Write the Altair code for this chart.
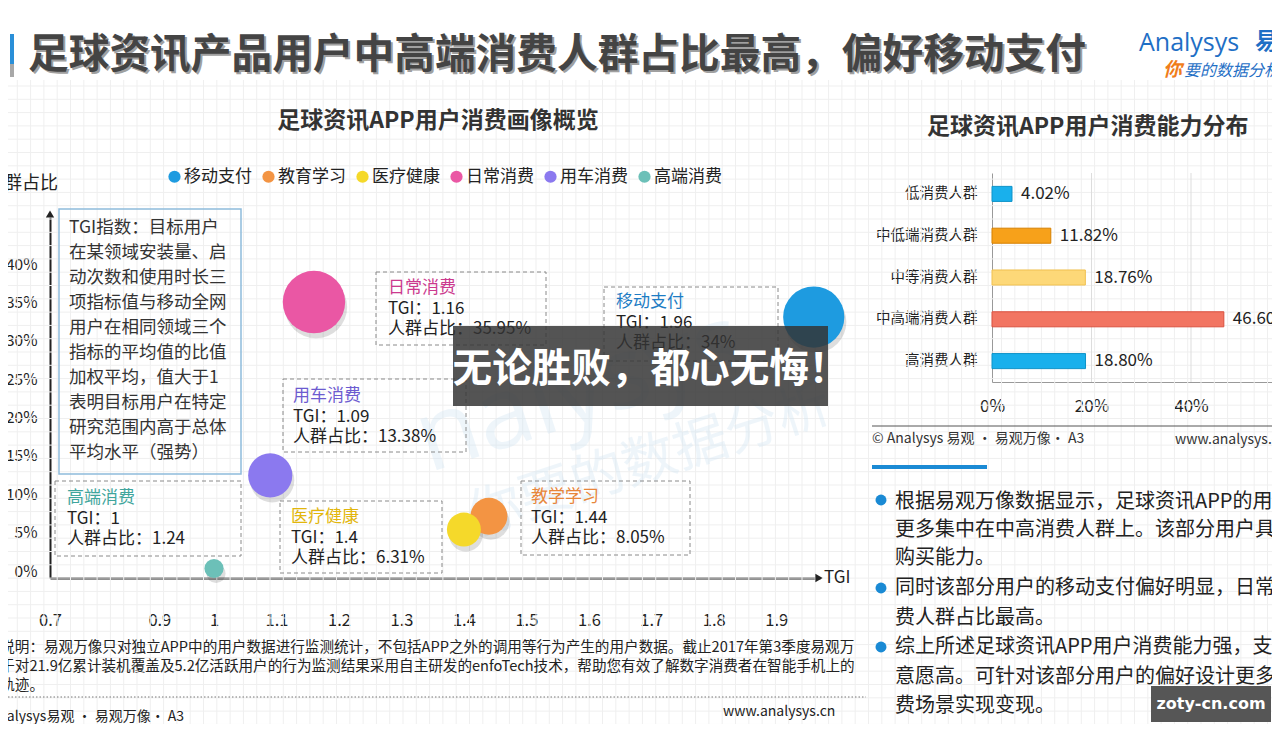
import altair as alt
import pandas as pd
import numpy as np

FONT = "Noto Sans CJK SC"
W, H = 1264, 716

# ---------------- data ----------------
bubble_names = ["移动支付", "教育学习", "医疗健康", "日常消费", "用车消费", "高端消费"]
bubble_tgi = [1.96, 1.44, 1.4, 1.16, 1.09, 1.0]
bubble_share = [34.0, 8.05, 6.31, 35.95, 13.38, 1.24]
bubble_colors = ["#1e9be0", "#f39443", "#f5d92a", "#ea57a4", "#8b79ef", "#6cc0b8"]

ann_titles = ["移动支付", "教学学习", "医疗健康", "日常消费", "用车消费", "高端消费"]
ann_title_colors = ["#1d7cc4", "#e8863a", "#e2b60c", "#cc3a8e", "#6d5bd0", "#3fa59c"]
ann_tgi_text = ["1.96", "1.44", "1.4", "1.16", "1.09", "1"]
ann_share_text = ["34%", "8.05%", "6.31%", "35.95%", "13.38%", "1.24"]

x_ticks = [0.7, 0.9, 1.0, 1.1, 1.2, 1.3, 1.4, 1.5, 1.6, 1.7, 1.8, 1.9]
y_ticks = [0, 5, 10, 15, 20, 25, 30, 35, 40]

bar_cats = ["低消费人群", "中低端消费人群", "中等消费人群", "中高端消费人群", "高消费人群"]
bar_vals = [4.02, 11.82, 18.76, 46.60, 18.80]
bar_labels = ["4.02%", "11.82%", "18.76%", "46.60%", "18.80%"]
bar_colors = ["#19b0ec", "#f7a11a", "#fdd878", "#f27562", "#19b0ec"]
bar_strokes = ["#0f93c8", "#d68000", "#f0c050", "#d9503e", "#0f93c8"]
bar_ticks = [0, 20, 40, 60]

title_text = "足球资讯产品用户中高端消费人群占比最高，偏好移动支付"
sub_left = "足球资讯APP用户消费画像概览"
sub_right = "足球资讯APP用户消费能力分布"
tgi_lines = ["TGI指数：目标用户", "在某领域安装量、启", "动次数和使用时长三", "项指标值与移动全网",
             "用户在相同领域三个", "指标的平均值的比值", "加权平均，值大于1", "表明目标用户在特定",
             "研究范围内高于总体", "平均水平（强势）"]
bullet_lines = ["根据易观万像数据显示，足球资讯APP的用户", "更多集中在中高消费人群上。该部分用户具有较强的",
                "购买能力。", "同时该部分用户的移动支付偏好明显，日常消", "费人群占比最高。",
                "综上所述足球资讯APP用户消费能力强，支付", "意愿高。可针对该部分用户的偏好设计更多消",
                "费场景实现变现。"]
note_lines = ["数据说明：易观万像只对独立APP中的用户数据进行监测统计，不包括APP之外的调用等行为产生的用户数据。截止2017年第3季度易观万",
              "像基于对21.9亿累计装机覆盖及5.2亿活跃用户的行为监测结果采用自主研发的enfoTech技术，帮助您有效了解数字消费者在智能手机上的",
              "行为轨迹。"]

# ---------------- layout (page pixel coordinates) ----------------
PX = alt.Scale(domain=[8, 8 + W], range=[0, W], nice=False, zero=False)
PY = alt.Scale(domain=[8, 8 + H], range=[0, H], nice=False, zero=False)

# annotation boxes: x1, y1, x2, y2, text x, first line y
ann_layout = [
    (604, 287, 778, 361, 616, 302),
    (521, 481, 690, 555, 531, 497),
    (280, 501, 442, 573, 291, 517),
    (376, 272, 546, 345, 388, 288),
    (283, 379, 466, 452, 293, 396),
    (55, 481, 241, 556, 67, 498),
]
LINE = 20.6


def X(f="x"):
    return alt.X(f"{f}:Q", scale=PX, axis=None)


def Y(f="y"):
    return alt.Y(f"{f}:Q", scale=PY, axis=None)


def text_layer(rows, **style):
    df = pd.DataFrame(rows, columns=["x", "y", "t"])
    st = dict(font=FONT, align="left", baseline="middle", color="#222")
    st.update(style)
    return alt.Chart(df).mark_text(**st).encode(x=X(), y=Y(), text="t:N")


def rect_layer(rows, **style):
    df = pd.DataFrame(rows, columns=["x", "y", "x2", "y2"])
    return alt.Chart(df).mark_rect(**style).encode(x=X(), y=Y(), x2="x2:Q", y2="y2:Q")


def rule_layer(rows, **style):
    df = pd.DataFrame(rows, columns=["x", "y", "x2", "y2"])
    return alt.Chart(df).mark_rule(**style).encode(x=X(), y=Y(), x2="x2:Q", y2="y2:Q")


def point_layer(rows, **style):
    df = pd.DataFrame(rows, columns=["x", "y"])
    return alt.Chart(df).mark_point(**style).encode(x=X(), y=Y())


layers = []

# background graph-paper grid
gx = np.arange(4, 1280, 13.3)
gy = np.arange(86, 732, 13.3)
layers.append(rule_layer([(v, 80, v, 724) for v in gx], color="#efefef", strokeWidth=1))
layers.append(rule_layer([(8, v, 1272, v) for v in gy], color="#efefef", strokeWidth=1))

# faint watermark logo
layers.append(text_layer([(580, 392, "nalysys")], fontSize=100, color="#cfe4f3", opacity=0.35,
                         angle=342, align="center", font="Open Sans"))
layers.append(text_layer([(650, 462, "你要的数据分析")], fontSize=54, color="#cfe4f3", opacity=0.35,
                         angle=342, align="center"))

# title bar + title
layers.append(rect_layer([(10, 34, 14, 64)], color="#2a8fd8"))
layers.append(rect_layer([(10, 64, 14, 77)], color="#a8a8a8"))
layers.append(text_layer([(30, 58, title_text)], fontSize=40.7, fontWeight="bold", color="#a0a0a0"))
layers.append(text_layer([(28, 56, title_text)], fontSize=40.7, fontWeight="bold", color="#444444"))

# logo
layers.append(text_layer([(1139, 43, "Analysys")], fontSize=25, color="#1f6fc5", font="Open Sans"))
layers.append(text_layer([(1255, 42, "易观")], fontSize=23, fontWeight="bold", color="#1f6fc5"))
layers.append(text_layer([(1163, 70, "你")], fontSize=19, fontWeight="bold", fontStyle="italic", color="#f07d1a"))
layers.append(text_layer([(1184, 71, "要的数据分析")], fontSize=16, fontStyle="italic", color="#1f6fc5"))

# subtitles
layers.append(text_layer([(438, 121, sub_left)], fontSize=23, fontWeight="bold", color="#333", align="center"))
layers.append(text_layer([(927, 127, sub_right)], fontSize=23, fontWeight="bold", color="#333"))

# TGI explanation box
layers.append(rect_layer([(59, 209, 241, 474)], fillOpacity=0, stroke="#8fbcdc", strokeWidth=1.5))
layers.append(text_layer([(69, 228 + 25 * i, s) for i, s in enumerate(tgi_lines)], fontSize=17.5, color="#333"))

# annotation boxes
layers.append(rect_layer([a[:4] for a in ann_layout], fillOpacity=0, stroke="#8a8a8a",
                         strokeWidth=1, strokeDash=[4, 3]))

# ---- bubble chart ----
bub = pd.DataFrame({"name": bubble_names, "tgi": bubble_tgi, "share": bubble_share})
BX = alt.Scale(domain=[0.7, 1.0, 1.97], range=[42, 206, 812], nice=False, zero=False)
BY = alt.Scale(domain=[0, 47], range=[570, 570 - 47 * 7.675], nice=False, zero=False)
BS = alt.Scale(type="pow", exponent=0.7, domain=[0, 36], range=[0, 3900])

shadow = alt.Chart(bub).mark_circle(color="#000000", opacity=0.13, xOffset=2, yOffset=5).encode(
    x=alt.X("tgi:Q", scale=BX, axis=None),
    y=alt.Y("share:Q", scale=BY, axis=None),
    size=alt.Size("share:Q", scale=BS, legend=None),
)
layers.append(shadow)

bubbles = alt.Chart(bub).mark_circle(opacity=1).encode(
    x=alt.X("tgi:Q", scale=BX, title=None,
            axis=alt.Axis(orient="bottom", offset=-146, values=x_ticks, format=".1~f", tickSize=0,
                          labelPadding=34, domainColor="#222", domainWidth=2, grid=False, labelFlush=False,
                          labelFontSize=16.5, labelFont=FONT, labelColor="#222")),
    y=alt.Y("share:Q", scale=BY, title=None,
            axis=alt.Axis(orient="left", offset=-42, values=y_ticks, labelExpr="datum.value + '%'",
                          tickSize=0, labelPadding=13, domainColor="#222", domainWidth=2, grid=False,
                          labelFlush=False, labelFontSize=15.5, labelFont=FONT, labelColor="#222",
                          labelOffset=-7)),
    size=alt.Size("share:Q", scale=BS, legend=None),
    color=alt.Color("name:N", scale=alt.Scale(domain=bubble_names, range=bubble_colors),
                    legend=alt.Legend(orient="none", legendX=158, legendY=160, direction="horizontal",
                                      title=None, symbolType="circle", symbolSize=150,
                                      symbolStrokeWidth=0, labelFontSize=17, labelFont=FONT,
                                      labelColor="#222", labelOffset=1, columnPadding=8, padding=0)),
)
layers.append(bubbles)

# axis arrows and titles
layers.append(point_layer([(50, 214)], shape="triangle-up", filled=True, size=70, color="#222", opacity=1))
layers.append(point_layer([(819, 578)], shape="triangle-right", filled=True, size=70, color="#222", opacity=1))
layers.append(text_layer([(58, 184, "人群占比")], fontSize=18, align="right", color="#222"))
layers.append(text_layer([(824, 578, "TGI")], fontSize=17, color="#222"))

# annotation texts
ann_df = pd.DataFrame({
    "x": [a[4] for a in ann_layout],
    "y": [a[5] for a in ann_layout],
    "t": ann_titles,
})
layers.append(alt.Chart(ann_df).mark_text(font=FONT, fontSize=17, align="left", baseline="middle").encode(
    x=X(), y=Y(), text="t:N",
    color=alt.Color("t:N", scale=alt.Scale(domain=ann_titles, range=ann_title_colors), legend=None)))
rows = []
for a, tg, sh in zip(ann_layout, ann_tgi_text, ann_share_text):
    rows.append((a[4], a[5] + LINE, "TGI：" + tg))
    rows.append((a[4], a[5] + 2 * LINE, "人群占比：" + sh))
layers.append(text_layer(rows, fontSize=17, color="#222"))

# ---- bar chart ----
bar = pd.DataFrame({"cat": bar_cats, "val": bar_vals, "lab": bar_labels})
BRX = alt.Scale(domain=[0, 60], range=[984, 984 + 298.5], nice=False, zero=False)
BRY = alt.Scale(domain=bar_cats, range=[165, 374], paddingInner=0.64, paddingOuter=0.32)

tick_df = pd.DataFrame({"v": bar_ticks[1:]})
layers.append(alt.Chart(tick_df).mark_rule(color="#dddddd", strokeWidth=1).encode(
    x=alt.X("v:Q", scale=BRX, axis=None), y=alt.value(165), y2=alt.value(374)))

layers.append(alt.Chart(bar).mark_bar(strokeWidth=1).encode(
    x=alt.X("val:Q", scale=BRX, title=None,
            axis=alt.Axis(orient="bottom", offset=-342, values=bar_ticks, labelExpr="datum.value + '%'",
                          tickSize=0, labelPadding=16, domainColor="#999", grid=False, labelFlush=False,
                          labelFontSize=17, labelFont=FONT, labelColor="#222")),
    y=alt.Y("cat:N", scale=BRY, title=None, sort=bar_cats,
            axis=alt.Axis(orient="left", offset=-984, tickSize=0, labelPadding=15, domainColor="#999",
                          grid=False, labelFontSize=14.5, labelFont=FONT, labelColor="#222")),
    color=alt.Color("cat:N", scale=alt.Scale(domain=bar_cats, range=bar_colors), legend=None),
    stroke=alt.Stroke("cat:N", scale=alt.Scale(domain=bar_cats, range=bar_strokes), legend=None),
))
layers.append(alt.Chart(bar).mark_text(font=FONT, fontSize=17, align="left", baseline="middle", dx=9,
                                       color="#222").encode(
    x=alt.X("val:Q", scale=BRX, axis=None),
    y=alt.Y("cat:N", scale=BRY, axis=None, sort=bar_cats),
    text="lab:N"))

# right footer / bullets
layers.append(rule_layer([(872, 426, 1272, 426)], color="#555", strokeWidth=1))
layers.append(text_layer([(872, 439, "© Analysys 易观 · 易观万像· A3")], fontSize=14, color="#333"))
layers.append(text_layer([(1175, 440, "www.analysys.cn")], fontSize=14, color="#333"))
layers.append(rect_layer([(872, 465, 987, 469)], color="#1a8ad4"))
layers.append(point_layer([(881, 500), (881, 588), (881, 647)], shape="circle", filled=True, size=120,
                          color="#1a8ad4", opacity=1))
bullet_y = [502, 530, 558, 588, 618, 647, 677, 706]
layers.append(text_layer([(895, y, s) for y, s in zip(bullet_y, bullet_lines)], fontSize=20, color="#222"))

# left footnotes
layers.append(text_layer([(-29, 648 + 19 * i, s) for i, s in enumerate(note_lines)], fontSize=14.6, color="#222"))
layers.append(rule_layer([(8, 697, 866, 697)], color="#777", strokeWidth=1, strokeDash=[1.5, 2]))
layers.append(text_layer([(-25, 717, "© Analysys易观 · 易观万像· A3")], fontSize=14, color="#222"))
layers.append(text_layer([(723, 712, "www.analysys.cn")], fontSize=14, color="#222"))

# overlay banner
layers.append(rect_layer([(453, 326, 828, 406)], color="#333333", opacity=0.84))
layers.append(text_layer([(650.5, 370, "无论胜败，都心无悔！")], fontSize=39.6, fontWeight="bold",
                         color="#ffffff", align="center"))

# corner watermark
layers.append(rect_layer([(1151, 686, 1271, 722)], color="#4d4d4d", opacity=0.95))
layers.append(text_layer([(1211, 704, "zoty-cn.com")], fontSize=16, fontWeight="bold", color="#ffffff",
                         align="center", font="DejaVu Sans"))

chart = alt.layer(*layers).resolve_scale(
    x="independent", y="independent", color="independent", stroke="independent", size="independent"
).properties(
    width=W, height=H, autosize="none", padding=0, background="white"
).configure_view(stroke=None)

chart.save("out.html", embed_options={"renderer": "svg", "actions": False})
